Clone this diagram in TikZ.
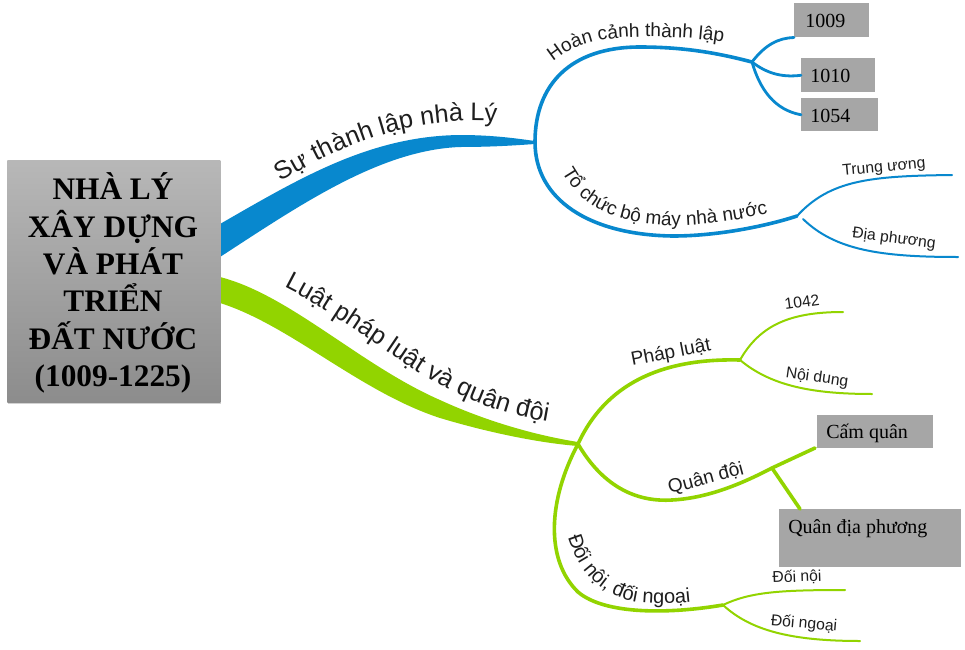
\documentclass[tikz,border=0pt]{standalone}
\usepackage{fontspec}
\setmainfont{Liberation Serif}
\newfontfamily\labfont{Liberation Sans}
\usetikzlibrary{decorations.text,shadows}
\definecolor{mblue}{RGB}{8,136,206}
\definecolor{mgreen}{RGB}{146,212,0}
\definecolor{boxgray}{RGB}{166,166,166}
\definecolor{txt}{RGB}{30,30,30}
\newcommand\labBig{\labfont\fontsize{19pt}{23pt}\selectfont\color{txt}}
\newcommand\labMid{\labfont\fontsize{14.3pt}{17pt}\selectfont\color{txt}}
\newcommand\labMidB{\labfont\fontsize{15pt}{18pt}\selectfont\color{txt}}
\begin{document}
\begin{tikzpicture}[x=0.75pt,y=-0.75pt,
  sub/.style={line width=2.7pt, line cap=round},
  leaf/.style={line width=1.5pt, line cap=round},
  gbox/.style={fill=boxgray, inner sep=0pt, anchor=north west},
  ytext/.style={font=\fontsize{15pt}{18pt}\selectfont, anchor=base west, inner sep=0pt},
  small/.style={font=\labfont\fontsize{11.8pt}{14pt}\selectfont, text=txt, inner sep=0pt},
  medium/.style={font=\labfont\fontsize{14.3pt}{17pt}\selectfont, text=txt, inner sep=0pt}]
\useasboundingbox (0,0) rectangle (965,650);
\fill[white] (0,0) rectangle (965,650);

% junctions
\coordinate (j1) at (535,142);
\coordinate (j11) at (752,62);
\coordinate (j12) at (797,216);
\coordinate (j12b) at (803,219);
\coordinate (j2) at (578,444);
\coordinate (j21) at (740,360);
\coordinate (j22) at (772,468);
\coordinate (j22e) at (815,448);
\coordinate (j23) at (723,605);
\coordinate (eTW) at (952,175);
\coordinate (eDP) at (958,257);
\coordinate (e1042) at (843,312);
\coordinate (eND) at (872,394);
\coordinate (eDN) at (845,590);
\coordinate (eDNg) at (860,641);

% main blue branch
\fill[mblue] (220,224) .. controls (300,178) and (370,136) .. (460,135)
  .. controls (495,135) and (520,139) .. (535,141) -- (535,144)
  .. controls (520,145) and (495,147) .. (460,147)
  .. controls (380,150) and (300,205) .. (220,257) -- cycle;
% main green branch
\fill[mgreen] (220,277) .. controls (290,295) and (360,365) .. (440,400)
  .. controls (490,423) and (540,436) .. (578,442) -- (578,446)
  .. controls (540,443) and (490,433) .. (440,418)
  .. controls (360,392) and (290,325) .. (220,303) -- cycle;

% blue sub-branches
\draw[mblue, sub] (j1) .. controls (535,85) and (570,47) .. (640,47)
  .. controls (690,47) and (725,55) .. (j11);
\draw[mblue, sub] (j1) .. controls (535,200) and (590,235) .. (673,236)
  .. controls (720,236) and (770,225) .. (j12);

% year boxes
\node[gbox, minimum width=56.25pt, minimum height=25.5pt] (b1009) at (794,3) {};
\node[gbox, minimum width=55.5pt, minimum height=25.5pt] (b1010) at (801,58) {};
\node[gbox, minimum width=57.75pt, minimum height=24.75pt] (b1054) at (801,98) {};
\node[ytext] (t1009) at (805,27) {1009};
\node[ytext] (t1010) at (810,82) {1010};
\node[ytext] (t1054) at (810,122) {1054};

\draw[mblue, leaf, line width=2.1pt] (j11) .. controls (765,45) and (778,38) .. (b1009.south west);
\draw[mblue, leaf, line width=2.1pt] (j11) .. controls (765,72) and (780,78) .. (b1010.west);
\draw[mblue, leaf, line width=2.1pt] (j11) .. controls (760,90) and (775,110) .. (b1054.west);

\draw[mblue, leaf] (j12) .. controls (830,180) and (870,176) .. (eTW);
\draw[mblue, leaf] (j12b) .. controls (835,250) and (880,257) .. (eDP);

% green sub-branches
\draw[mgreen, sub] (j2) .. controls (605,385) and (660,358) .. (j21);
\draw[mgreen, sub] (j2) .. controls (605,490) and (640,502) .. (672,500)
  .. controls (710,498) and (745,482) .. (j22) -- (j22e);
\draw[mgreen, sub] (j2) .. controls (548,500) and (545,560) .. (578,592)
  .. controls (605,615) and (670,614) .. (j23);

\draw[mgreen, leaf] (j21) .. controls (760,325) and (790,312) .. (e1042);
\draw[mgreen, leaf] (j21) .. controls (770,385) and (810,394) .. (eND);
\draw[mgreen, leaf] (j23) .. controls (750,592) and (780,590) .. (eDN);
\draw[mgreen, leaf] (j23) .. controls (750,630) and (790,641) .. (eDNg);

% army boxes
\node[gbox, minimum width=87pt, minimum height=24.75pt] (bcq) at (817,415) {};
\node[gbox, minimum width=136.5pt, minimum height=43.5pt] (bqdp) at (779,509) {};
\node[ytext] (tcq) at (826,438) {Cấm quân};
\node[ytext] (tqdp) at (788,533) {Quân địa phương};
\draw[mgreen, sub] (j22) -- (bqdp.north west -| 800,509);

% central box
\node[minimum width=159.75pt, minimum height=181.5pt, anchor=north west,
  top color=black!28, bottom color=black!45, inner sep=0pt,
  drop shadow={opacity=0.35, shadow xshift=0.8pt, shadow yshift=-1.5pt}] (root) at (7,160) {};
\node[align=center, font=\bfseries\fontsize{23.5pt}{28pt}\selectfont, inner sep=0pt]
  (roottext) at (113,283) {NHÀ LÝ\\XÂY DỰNG\\VÀ PHÁT\\TRIỂN\\ĐẤT NƯỚC\\(1009-1225)};

% curved labels
\path[decorate, decoration={text along path, text={|\labBig|Sự thành lập nhà Lý}}]
  (281,182) .. controls (340,146) and (400,122) .. (470,121) .. controls (500,121) and (520,123) .. (545,125);
\path[decorate, decoration={text along path, text={|\labBig|Luật pháp luật và quân đội}}]
  (284,287) .. controls (350,320) and (405,370) .. (462,396) .. controls (500,413) and (530,420) .. (575,426);
\path[decorate, decoration={text along path, text={|\labMid|Hoàn cảnh thành lập}}]
  (553,62) .. controls (578,41) and (610,37) .. (645,37) .. controls (690,37) and (715,40) .. (745,46);
\path[decorate, decoration={text along path, text={|\labMid|Tổ chức bộ máy nhà nước}}]
  (562,172) .. controls (580,205) and (612,222) .. (660,225) .. controls (700,227) and (740,220) .. (785,210);
\path[decorate, decoration={text along path, text={|\labMidB|Đối nội, đối ngoại}}]
  (568,537) .. controls (580,578) and (608,600) .. (645,603) .. controls (670,605) and (690,602) .. (725,598);

% straight labels
\node[small, rotate=5.4] (lTW) at (884,168) {Trung ương};
\node[small, rotate=-7] (lDP) at (894,239) {Địa phương};
\node[small, rotate=8] (l1042) at (802,302) {1042};
\node[small, rotate=-8] (lND) at (817,378) {Nội dung};
\node[medium, rotate=11] (lPL) at (671,353) {Pháp luật};
\node[medium, rotate=15] (lQD) at (706,479) {Quân đội};
\node[small, rotate=2] (lDN) at (797,577) {Đối nội};
\node[small, rotate=-5] (lDNg) at (804,624) {Đối ngoại};
\end{tikzpicture}
\end{document}
